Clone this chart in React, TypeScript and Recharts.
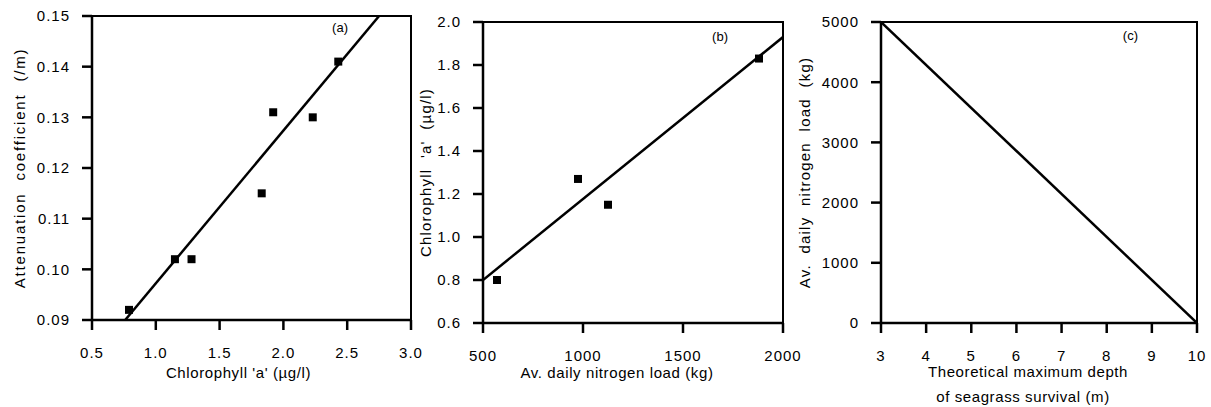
import React from "react";
import {
  ComposedChart,
  XAxis,
  YAxis,
  Scatter,
  Line,
  ReferenceArea,
  Label,
} from "recharts";

// (a) attenuation vs chlorophyll
const chlA = [0.79, 1.15, 1.28, 1.83, 1.92, 2.23, 2.43];
const attenA = [0.092, 0.102, 0.102, 0.115, 0.131, 0.13, 0.141];
const fitAX = [0.76, 2.75];
const fitAY = [0.09, 0.15];
const ticksAX = [0.5, 1.0, 1.5, 2.0, 2.5, 3.0];
const ticksAY = [0.09, 0.1, 0.11, 0.12, 0.13, 0.14, 0.15];

// (b) chlorophyll vs nitrogen load
const loadB = [570, 975, 1125, 1880];
const chlB = [0.8, 1.27, 1.15, 1.83];
const fitBX = [500, 2000];
const fitBY = [0.8, 1.93];
const ticksBX = [500, 1000, 1500, 2000];
const ticksBY = [0.6, 0.8, 1.0, 1.2, 1.4, 1.6, 1.8, 2.0];

// (c) nitrogen load vs depth
const depthC = [3, 10];
const loadC = [5000, 0];
const ticksCX = [3, 4, 5, 6, 7, 8, 9, 10];
const ticksCY = [0, 1000, 2000, 3000, 4000, 5000];

const font = '"Liberation Sans", Arial, Helvetica, sans-serif';
const gap = "\u00A0 ";

const zip = (xs: number[], ys: number[]) => xs.map((x, i) => ({ x, y: ys[i] }));

type XLabel = { text: string; offset: number; dx: number };

type PanelProps = {
  left: number;
  width: number;
  top: number;
  right: number;
  yWidth: number;
  xHeight: number;
  xDomain: [number, number];
  yDomain: [number, number];
  xTicks: number[];
  yTicks: number[];
  xFmt: (v: number) => string;
  yFmt: (v: number) => string;
  points?: { x: number; y: number }[];
  fit: { x: number; y: number }[];
  yLabel: string;
  yLabelOffset: number;
  yLabelSpacing: number;
  xLabels: XLabel[];
  tag: string;
  tagDx: number;
  tagDy: number;
};

const axisStyle = { stroke: "#000", strokeWidth: 2.5 };
const tickStyle = {
  fill: "#000",
  fontSize: 15,
  fontFamily: font,
  letterSpacing: 1,
  style: { letterSpacing: "1px" },
};
const labelStyle = {
  fill: "#000",
  fontSize: 15,
  fontFamily: font,
  textAnchor: "middle" as const,
};

function Panel(p: PanelProps) {
  return (
    <div style={{ position: "absolute", left: p.left, top: 0 }}>
      <ComposedChart
        width={p.width}
        height={407}
        margin={{ top: p.top, right: p.right, left: 0, bottom: 0 }}
      >
        <XAxis
          dataKey="x"
          type="number"
          domain={p.xDomain}
          ticks={p.xTicks}
          tickFormatter={p.xFmt}
          allowDataOverflow
          height={p.xHeight}
          axisLine={axisStyle}
          tickLine={axisStyle}
          tickSize={10}
          tickMargin={17}
          tick={tickStyle}
          interval={0}
        >
          {p.xLabels.map((l) => (
            <Label
              key={l.text}
              value={l.text}
              position="insideBottom"
              offset={l.offset}
              dx={l.dx}
              style={{ ...labelStyle, letterSpacing: "0.6px" }}
            />
          ))}
        </XAxis>
        <YAxis
          dataKey="y"
          type="number"
          domain={p.yDomain}
          ticks={p.yTicks}
          tickFormatter={p.yFmt}
          allowDataOverflow
          width={p.yWidth}
          axisLine={axisStyle}
          tickLine={axisStyle}
          tickSize={10}
          tickMargin={12}
          tick={tickStyle}
          interval={0}
        >
          <Label
            value={p.yLabel}
            angle={-90}
            position="insideLeft"
            offset={p.yLabelOffset}
            style={{ ...labelStyle, letterSpacing: `${p.yLabelSpacing}px` }}
          />
        </YAxis>
        <ReferenceArea
          x1={p.xDomain[0]}
          x2={p.xDomain[1]}
          y1={p.yDomain[0]}
          y2={p.yDomain[1]}
          fill="none"
          stroke="#000"
          strokeWidth={2}
        >
          <Label
            value={p.tag}
            position="insideTopRight"
            offset={0}
            dx={-p.tagDx}
            dy={p.tagDy}
            style={{ fill: "#000", fontSize: 13, fontFamily: font }}
          />
        </ReferenceArea>
        <Line
          data={p.fit}
          dataKey="y"
          type="linear"
          stroke="#000"
          strokeWidth={2.5}
          dot={false}
          activeDot={false}
          isAnimationActive={false}
        />
        {p.points && (
          <Scatter
            data={p.points}
            dataKey="y"
            shape="square"
            fill="#000"
            isAnimationActive={false}
          />
        )}
      </ComposedChart>
    </div>
  );
}

export default function App() {
  return (
    <div
      style={{
        position: "absolute",
        left: 0,
        top: 0,
        width: 1211,
        height: 407,
        background: "#fff",
      }}
    >
      <Panel
        left={0}
        width={432}
        top={16}
        right={21}
        yWidth={92}
        xHeight={87}
        xDomain={[0.5, 3.0]}
        yDomain={[0.09, 0.15]}
        xTicks={ticksAX}
        yTicks={ticksAY}
        xFmt={(v) => v.toFixed(1)}
        yFmt={(v) => v.toFixed(2)}
        points={zip(chlA, attenA)}
        fit={zip(fitAX, fitAY)}
        yLabel={`Attenuation${gap}coefficient${gap}(/m)`}
        yLabelOffset={20}
        yLabelSpacing={1.8}
        xLabels={[{ text: "Chlorophyll 'a' (µg/l)", offset: 29, dx: -13 }]}
        tag="(a)"
        tagDx={63}
        tagDy={7}
      />
      <Panel
        left={405}
        width={400}
        top={22}
        right={22}
        yWidth={78}
        xHeight={84}
        xDomain={[500, 2000]}
        yDomain={[0.6, 2.0]}
        xTicks={ticksBX}
        yTicks={ticksBY}
        xFmt={(v) => String(v)}
        yFmt={(v) => v.toFixed(1)}
        points={zip(loadB, chlB)}
        fit={zip(fitBX, fitBY)}
        yLabel={`Chlorophyll${gap}'a'${gap}(µg/l)`}
        yLabelOffset={21}
        yLabelSpacing={1.2}
        xLabels={[{ text: "Av. daily nitrogen load (kg)", offset: 29, dx: -16 }]}
        tag="(b)"
        tagDx={55}
        tagDy={10}
      />
      <Panel
        left={790}
        width={421}
        top={22}
        right={14}
        yWidth={91}
        xHeight={84}
        xDomain={[3, 10]}
        yDomain={[0, 5000]}
        xTicks={ticksCX}
        yTicks={ticksCY}
        xFmt={(v) => String(v)}
        yFmt={(v) => String(v)}
        fit={zip(depthC, loadC)}
        yLabel={`Av.${gap}daily${gap}nitrogen${gap}load${gap}(kg)`}
        yLabelOffset={15}
        yLabelSpacing={1.2}
        xLabels={[
          { text: "Theoretical maximum depth", offset: 30, dx: -11 },
          { text: "of seagrass survival (m)", offset: 5, dx: -16 },
        ]}
        tag="(c)"
        tagDx={59}
        tagDy={9}
      />
    </div>
  );
}
